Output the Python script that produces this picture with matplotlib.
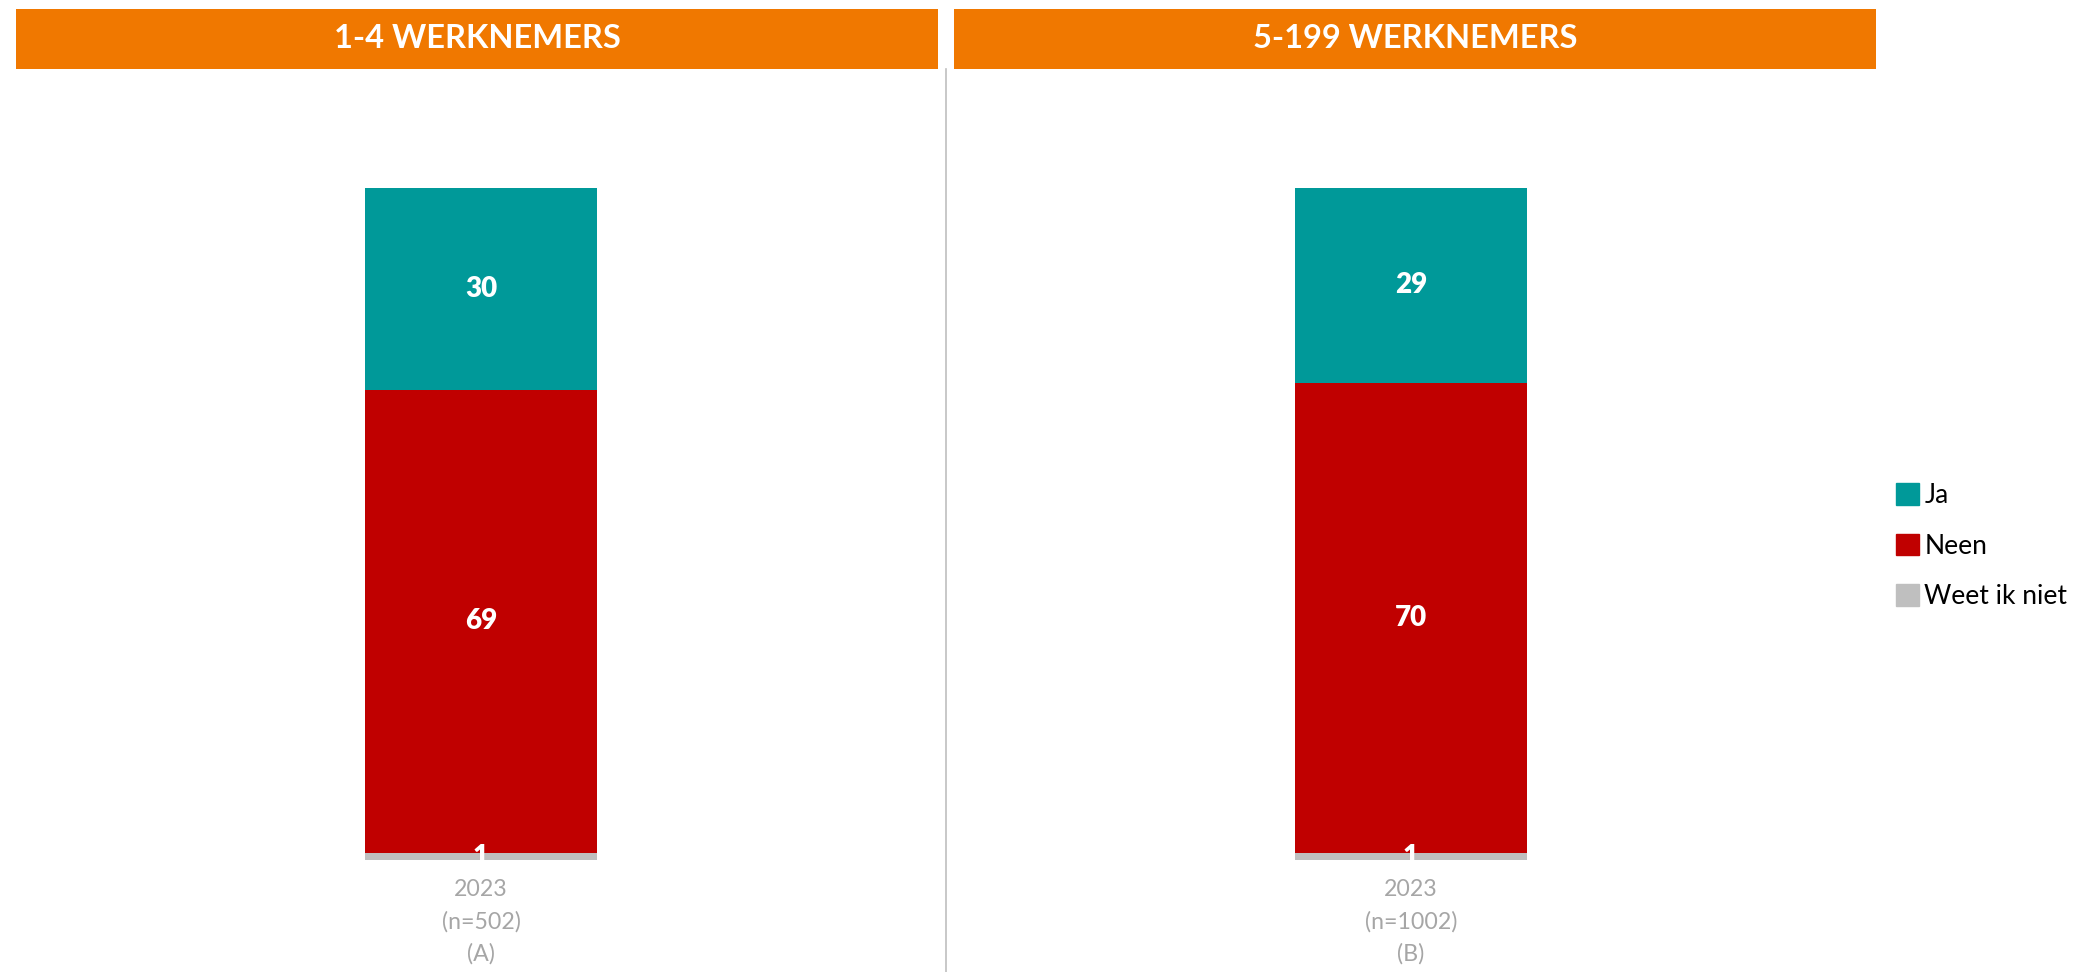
import matplotlib
matplotlib.use("Agg")
import matplotlib.pyplot as plt
from matplotlib.patches import Rectangle, Patch
from matplotlib.lines import Line2D

plt.rcParams['font.family'] = ['Lato', 'DejaVu Sans']

# Daten
panels = ["1-4 WERKNEMERS", "5-199 WERKNEMERS"]
tick_labels = ["2023\n(n=502)\n(A)", "2023\n(n=1002)\n(B)"]
series = ["Weet ik niet", "Neen", "Ja"]
weet_ik_niet = [1, 1]
neen = [69, 70]
ja = [30, 29]
colors = {"Ja": "#009999", "Neen": "#C00000", "Weet ik niet": "#BFBFBF"}
orange = "#F07800"

W, H = 2093, 972
fig = plt.figure(figsize=(W / 100, H / 100), dpi=100)

def fx(px):
    return px / W

def fy(py):
    return 1 - py / H

# Achsen (in Pixel umgerechnet)
ax_left = [16, 946]
ax_width = 930
y_top, y_bot = 188, 860

values = {"Weet ik niet": weet_ik_niet, "Neen": neen, "Ja": ja}

for i in range(2):
    ax = fig.add_axes([fx(ax_left[i]), fy(y_bot), fx(ax_width), (y_bot - y_top) / H])
    bottom = 0
    for s in series:
        v = values[s][i]
        bars = ax.bar([0], [v], bottom=bottom, width=1.0, color=colors[s])
        ax.bar_label(bars, labels=[str(v)], label_type='center', color='white',
                     fontsize=20, fontweight='heavy')
        bottom += v
    ax.set_xlim(-2, 2)
    ax.set_ylim(0, 100)
    ax.set_xticks([0], labels=[tick_labels[i]])
    ax.tick_params(axis='x', length=0, pad=14, labelsize=16.7, labelcolor='#A6A6A6')
    for lbl in ax.get_xticklabels():
        lbl.set_linespacing(1.6)
    ax.set_yticks([])
    for sp in ax.spines.values():
        sp.set_visible(False)
    ax.patch.set_alpha(0)

# Kopfzeilen
headers = [(16, 938), (954, 1876)]
for (x0, x1), title in zip(headers, panels):
    fig.add_artist(Rectangle((fx(x0), fy(69)), fx(x1 - x0), (69 - 9) / H,
                             transform=fig.transFigure, color=orange, lw=0))
    fig.text(fx((x0 + x1) / 2), fy(39), title, ha='center', va='center',
             color='white', fontsize=23.5, fontweight='bold')

# Trennlinie
fig.add_artist(Line2D([fx(946), fx(946)], [fy(69), 0], transform=fig.transFigure,
                      color='#BFBFBF', lw=1.2))

# Legende
handles = [Patch(color=colors[s]) for s in ["Ja", "Neen", "Weet ik niet"]]
fig.legend(handles, ["Ja", "Neen", "Weet ik niet"], loc='center left',
           bbox_to_anchor=(fx(1896), fy(546)), frameon=False, fontsize=19,
           handlelength=0.88, handleheight=0.88, handletextpad=0.2, labelspacing=0.97,
           borderpad=0, borderaxespad=0)

fig.savefig("out.png", dpi=100)
